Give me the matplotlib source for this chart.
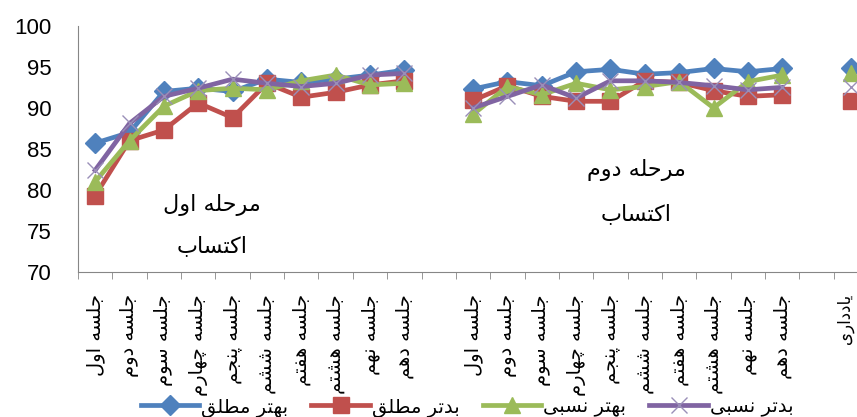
import numpy as np
import matplotlib
matplotlib.use("Agg")
import matplotlib.pyplot as plt
import matplotlib.transforms as mtransforms
from matplotlib.ticker import FixedLocator

# --- data -----------------------------------------------------------------
sessions = ["جلسه اول", "جلسه دوم", "جلسه سوم", "جلسه چهارم", "جلسه پنجم",
            "جلسه ششم", "جلسه هفتم", "جلسه هشتم", "جلسه نهم", "جلسه دهم"]
retention_label = "یادداری"

series_names = ["بهتر مطلق", "بدتر مطلق", "بهتر نسبی", "بدتر نسبی"]

phase1_best_abs = [85.7, 87.0, 92.0, 92.4, 92.0, 93.5, 93.1, 93.5, 94.0, 94.6]
phase1_worst_abs = [79.3, 86.0, 87.3, 90.6, 88.8, 93.0, 91.3, 91.9, 92.8, 93.3]
phase1_best_rel = [81.0, 86.0, 90.2, 92.1, 92.4, 92.2, 93.3, 94.0, 92.8, 93.0]
phase1_worst_rel = [82.4, 88.1, 91.4, 92.4, 93.5, 93.0, 92.6, 93.0, 94.0, 94.2]

phase2_best_abs = [92.3, 93.2, 92.7, 94.4, 94.7, 94.1, 94.3, 94.8, 94.4, 94.8]
phase2_worst_abs = [90.9, 92.7, 91.4, 90.8, 90.8, 93.3, 93.1, 92.1, 91.4, 91.6]
phase2_best_rel = [89.2, 92.6, 91.6, 93.0, 92.2, 92.6, 93.2, 90.0, 93.2, 94.0]
phase2_worst_rel = [90.0, 91.4, 92.8, 91.2, 93.3, 93.3, 93.1, 92.7, 92.2, 92.5]

retention_best_abs = 94.9
retention_worst_abs = 90.8
retention_best_rel = 94.3
retention_worst_rel = 92.6


def shape_fa(text):
    """tiny persian reshaper: contextual forms + visual (reversed) order"""
    forms = {
        "ا": ("\uFE8D", "\uFE8E"), "د": ("\uFEA9", "\uFEAA"),
        "ر": ("\uFEAD", "\uFEAE"), "و": ("\uFEED", "\uFEEE"),
        "ب": ("\uFE8F", "\uFE90", "\uFE91", "\uFE92"),
        "پ": ("\uFB56", "\uFB57", "\uFB58", "\uFB59"),
        "ت": ("\uFE95", "\uFE96", "\uFE97", "\uFE98"),
        "ج": ("\uFE9D", "\uFE9E", "\uFE9F", "\uFEA0"),
        "چ": ("\uFB7A", "\uFB7B", "\uFB7C", "\uFB7D"),
        "ح": ("\uFEA1", "\uFEA2", "\uFEA3", "\uFEA4"),
        "س": ("\uFEB1", "\uFEB2", "\uFEB3", "\uFEB4"),
        "ش": ("\uFEB5", "\uFEB6", "\uFEB7", "\uFEB8"),
        "ط": ("\uFEC1", "\uFEC2", "\uFEC3", "\uFEC4"),
        "ف": ("\uFED1", "\uFED2", "\uFED3", "\uFED4"),
        "ق": ("\uFED5", "\uFED6", "\uFED7", "\uFED8"),
        "ک": ("\uFB8E", "\uFB8F", "\uFB90", "\uFB91"),
        "ل": ("\uFEDD", "\uFEDE", "\uFEDF", "\uFEE0"),
        "م": ("\uFEE1", "\uFEE2", "\uFEE3", "\uFEE4"),
        "ن": ("\uFEE5", "\uFEE6", "\uFEE7", "\uFEE8"),
        "ه": ("\uFEE9", "\uFEEA", "\uFEEB", "\uFEEC"),
        "ی": ("\uFBFC", "\uFBFD", "\uFBFE", "\uFBFF"),
    }
    out = []
    for i, c in enumerate(text):
        if c not in forms:
            out.append(c)
            continue
        prev = text[i - 1] if i > 0 else None
        nxt = text[i + 1] if i + 1 < len(text) else None
        f = forms[c]
        join_prev = prev in forms and len(forms[prev]) == 4
        join_next = nxt in forms and len(f) == 4
        if join_prev and join_next:
            out.append(f[3])
        elif join_prev:
            out.append(f[1])
        elif join_next:
            out.append(f[2])
        else:
            out.append(f[0])
    return "".join(reversed(out))


gap = [np.nan]
best_abs = phase1_best_abs + gap + phase2_best_abs + gap + [retention_best_abs]
worst_abs = phase1_worst_abs + gap + phase2_worst_abs + gap + [retention_worst_abs]
best_rel = phase1_best_rel + gap + phase2_best_rel + gap + [retention_best_rel]
worst_rel = phase1_worst_rel + gap + phase2_worst_rel + gap + [retention_worst_rel]
labels = sessions + [""] + sessions + [""] + [retention_label]
x = np.arange(len(labels))

plt.rcParams['font.family'] = ['DejaVu Sans']

fig = plt.figure(figsize=(8.57, 4.17), dpi=100)
ax = fig.add_axes([0.091, 0.348, 0.922, 0.590])

ax.plot(x, best_abs, color='#4F81BD', lw=3.4, marker='D', ms=10,
        mec='#4F81BD', label=shape_fa(series_names[0]))
ax.plot(x, worst_abs, color='#C0504D', lw=3.4, marker='s', ms=11,
        mec='#C0504D', label=shape_fa(series_names[1]))
ax.plot(x, best_rel, color='#9BBB59', lw=3.4, marker='^', ms=12,
        mec='#9BBB59', label=shape_fa(series_names[2]))
ax.plot(x, worst_rel, color='#8064A2', lw=3.4, marker='x', ms=12,
        mec='#9a8fb8', mew=1.0, label=shape_fa(series_names[3]))

ax.set_xlim(-0.5, len(labels) - 0.5)
ax.set_ylim(70, 100)
ax.set_yticks(np.arange(70, 101, 5))
ax.tick_params(axis='y', length=0, pad=19, labelsize=16)
for t in ax.get_yticklabels():
    t.set_family('Liberation Sans')

ax.set_xticks(x)
ax.set_xticklabels([shape_fa(s) for s in labels], rotation=90, fontsize=14)
ax.xaxis.set_minor_locator(FixedLocator(np.arange(-0.5, len(labels), 1)))
ax.tick_params(axis='x', which='major', length=0, pad=16)
ax.tick_params(axis='x', which='minor', length=5, color='#868686', direction='out')

# last label sits on the right edge, keep it inside the picture
last = ax.get_xticklabels()[-1]
last.set_fontsize(12)
last.set_transform(last.get_transform() +
                   mtransforms.ScaledTranslation(-4 / 72, 0, fig.dpi_scale_trans))

for s in ['top', 'right']:
    ax.spines[s].set_visible(False)
for s in ['left', 'bottom']:
    ax.spines[s].set_color('#868686')
    ax.spines[s].set_linewidth(0.8)

ax.text(3.4, 78.1, shape_fa("مرحله اول"), ha='center', va='center', fontsize=16)
ax.text(3.4, 73.2, shape_fa("اکتساب"), ha='center', va='center', fontsize=16)
ax.text(15.75, 82.4, shape_fa("مرحله دوم"), ha='center', va='center', fontsize=16)
ax.text(15.75, 77.1, shape_fa("اکتساب"), ha='center', va='center', fontsize=16)

fig.legend(loc='center', bbox_to_anchor=(0.545, 0.024), ncol=4, frameon=False,
           fontsize=14, handlelength=3.0, handletextpad=0.1, columnspacing=1.2,
           numpoints=1)

fig.savefig('out.png', dpi=100)
